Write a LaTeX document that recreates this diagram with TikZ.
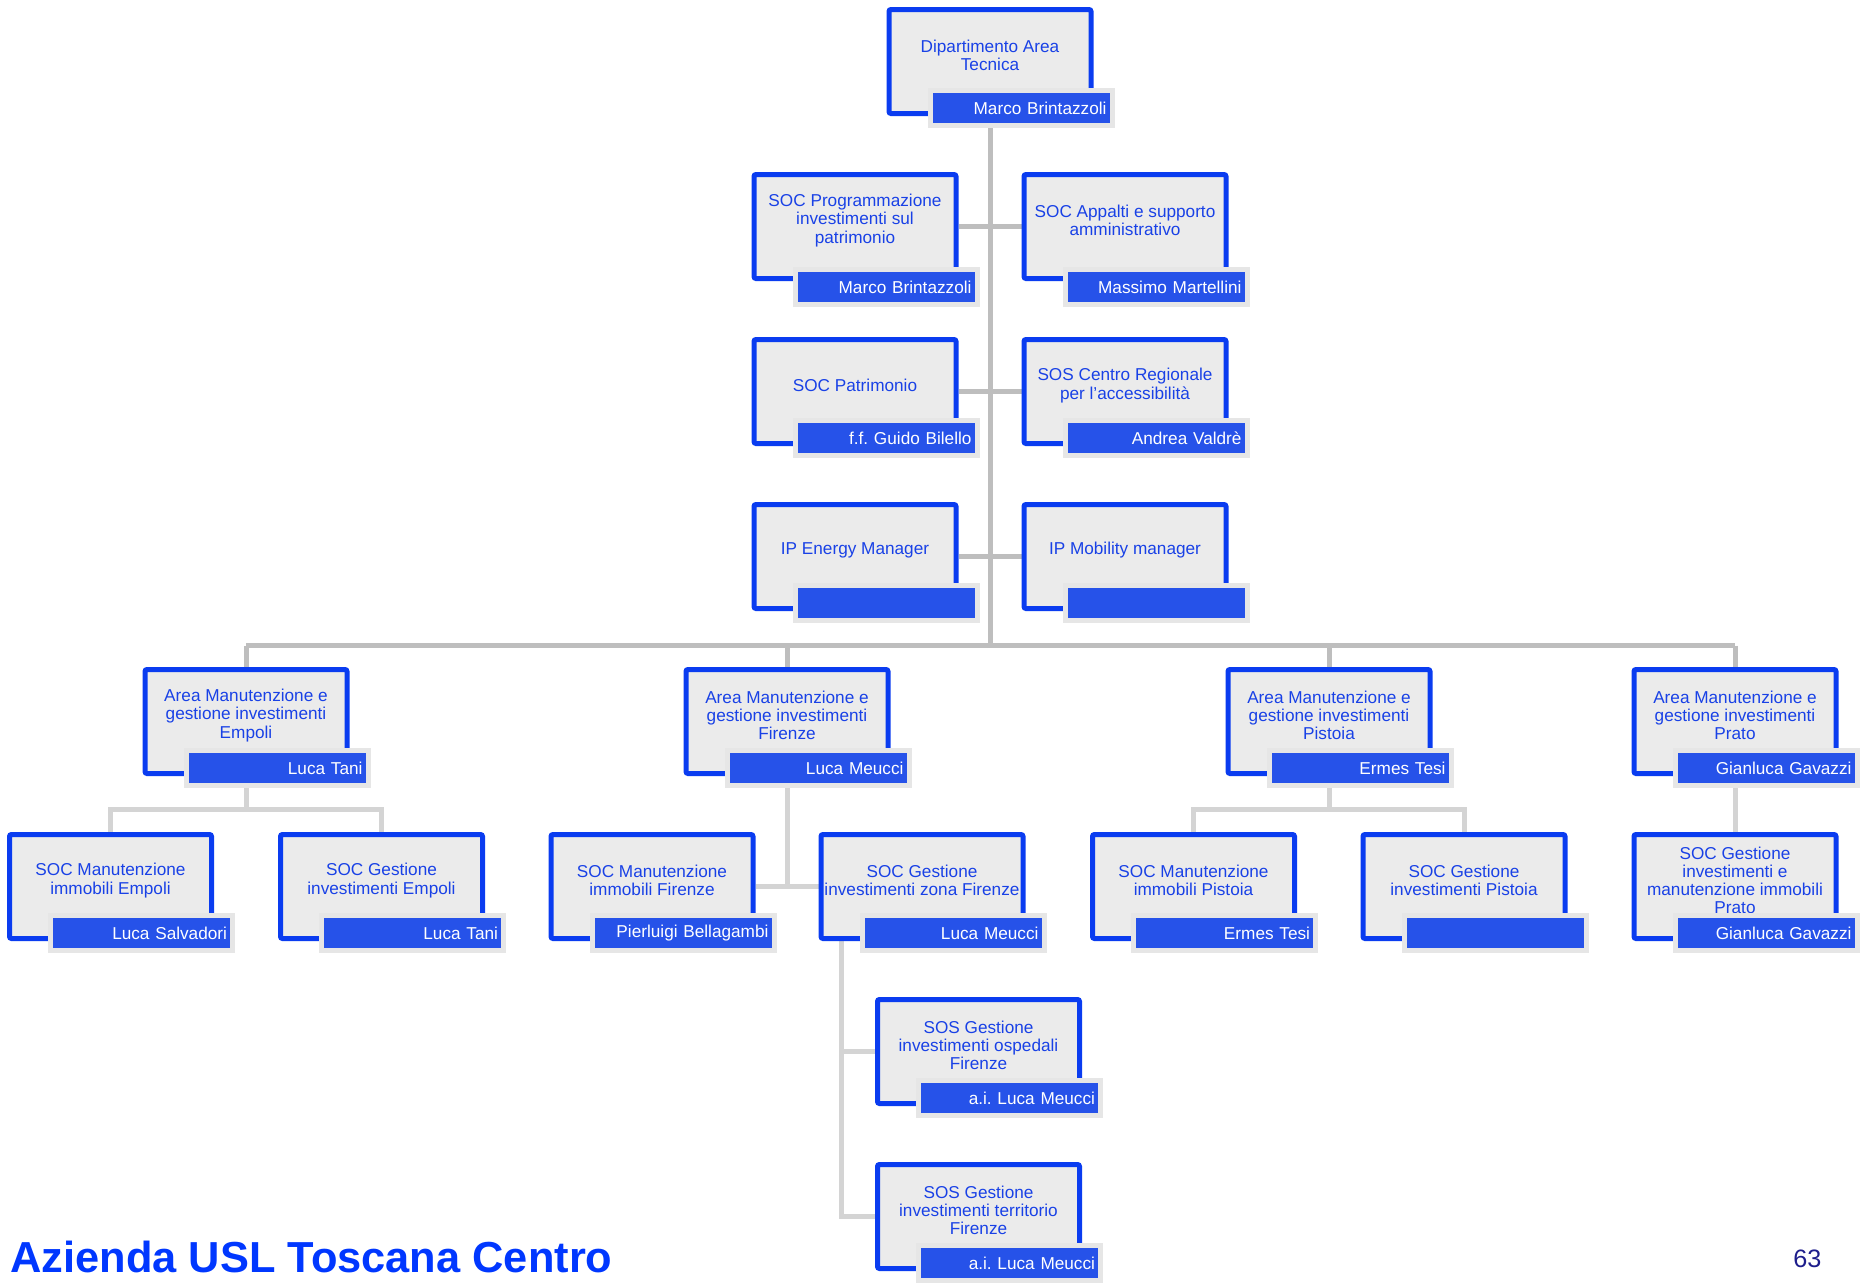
\documentclass[tikz,border=0pt]{standalone}
\usepackage{fontspec}
\setmainfont{Liberation Sans}
\usepackage{xcolor}
\usetikzlibrary{positioning, backgrounds}
\frenchspacing
\definecolor{unitblue}{RGB}{10,60,240}
\definecolor{unitfill}{RGB}{235,235,235}
\definecolor{labelblue}{RGB}{25,65,230}
\definecolor{barblue}{RGB}{22,70,234}
\definecolor{framegrey}{RGB}{230,230,230}
\definecolor{linkgrey}{RGB}{190,190,190}
\definecolor{sublinkgrey}{RGB}{212,212,212}
\definecolor{titleblue}{RGB}{0,55,255}
\definecolor{pagenavy}{RGB}{30,30,140}

\tikzset{
  unitbox/.style={draw=unitblue, fill=unitfill, line width=2.5pt,
    rounded corners=1pt, minimum width=101pt, minimum height=52pt, inner sep=0pt},
  boxlabel/.style={align=center, text=labelblue, inner sep=0pt,
    font=\fontsize{8.6pt}{9.1pt}\selectfont},
  nameframe/.style={fill=framegrey, minimum width=93.5pt, minimum height=20pt, inner sep=0pt},
  namebar/.style={fill=barblue, fill opacity=0.92, text opacity=1, text=white,
    minimum height=15pt, text width=85.5pt, inner xsep=1.5pt, inner ysep=0pt,
    align=right, font=\fontsize{8.6pt}{9.1pt}\selectfont},
  link/.style={draw=linkgrey, line width=2.5pt},
  sublink/.style={draw=sublinkgrey, line width=2.5pt}
}

% box with a name bar: [bar drop], name, x, y, label, person
\newcommand{\orgbox}[6][0]{%
  \node[unitbox] (#2) at (#3,#4) {};
  \node[boxlabel] (#2-t) at ([yshift=3pt]#2.center) {#5};
  \node[nameframe] (#2-f) at ({#3+31},{#4+46.5+#1}) {};
  \node[namebar] (#2-n) at (#2-f.center) {#6};
}

\begin{document}
\begin{tikzpicture}[x=0.5pt, y=-0.5pt]
  \useasboundingbox (0,0) rectangle (1865,1282);

  % head
  \orgbox{dip}{990}{61.5}{Dipartimento Area\\Tecnica}{Marco Brintazzoli}
  % staff rows
  \orgbox[14]{prog}{855}{226.5}{SOC Programmazione\\investimenti sul\\patrimonio}{Marco Brintazzoli}
  \orgbox[14]{appa}{1125}{226.5}{SOC Appalti e supporto\\amministrativo}{Massimo Martellini}
  \orgbox{patr}{855}{391.5}{SOC Patrimonio}{f.f. Guido Bilello}
  \orgbox{acce}{1125}{391.5}{SOS Centro Regionale\\per l’accessibilità}{Andrea Valdrè}
  \orgbox{ener}{855}{556.5}{IP Energy Manager}{}
  \orgbox{mobi}{1125}{556.5}{IP Mobility manager}{}
  % areas
  \orgbox{emp}{246}{721.5}{Area Manutenzione e\\gestione investimenti\\Empoli}{Luca Tani}
  \orgbox{fir}{787}{721.5}{Area Manutenzione e\\gestione investimenti\\Firenze}{Luca Meucci}
  \orgbox{pis}{1329}{721.5}{Area Manutenzione e\\gestione investimenti\\Pistoia}{Ermes Tesi}
  \orgbox{pra}{1735}{721.5}{Area Manutenzione e\\gestione investimenti\\Prato}{Gianluca Gavazzi}
  % units of the areas
  \orgbox{empa}{110.5}{886.5}{SOC Manutenzione\\immobili Empoli}{Luca Salvadori}
  \orgbox{empb}{381.5}{886.5}{SOC Gestione\\investimenti Empoli}{Luca Tani}
  \orgbox{fira}{652}{886.5}{SOC Manutenzione\\immobili Firenze}{Pierluigi Bellagambi}
  \orgbox{firb}{922}{886.5}{SOC Gestione\\investimenti zona Firenze}{Luca Meucci}
  \orgbox{pisa}{1193.5}{886.5}{SOC Manutenzione\\immobili Pistoia}{Ermes Tesi}
  \orgbox{pisb}{1464}{886.5}{SOC Gestione\\investimenti Pistoia}{}
  \orgbox{prab}{1735}{886.5}{SOC Gestione\\investimenti e\\manutenzione immobili\\Prato}{Gianluca Gavazzi}
  \orgbox{sosa}{978.5}{1051.5}{SOS Gestione\\investimenti ospedali\\Firenze}{a.i. Luca Meucci}
  \orgbox{sosb}{978.5}{1216.5}{SOS Gestione\\investimenti territorio\\Firenze}{a.i. Luca Meucci}

  % footer
  \node[anchor=base west, inner sep=0pt, text=titleblue,
    font=\fontsize{21.7pt}{24pt}\selectfont\bfseries] (title) at (10,1272) {Azienda USL Toscana Centro};
  \node[anchor=base west, inner sep=0pt, text=pagenavy,
    font=\fontsize{12.6pt}{14pt}\selectfont] (page) at (1793,1267) {63};

  \begin{scope}[on background layer]
    % main spine and bus
    \coordinate (busL) at (246,645.5);
    \coordinate (busR) at (1735,645.5);
    \draw[link] (dip.south) -- (dip.south |- busL);
    \draw[link] (busL) -- (busR);
    \foreach \a/\b in {prog/appa, patr/acce, ener/mobi}{
      \draw[link] (\a.east) -- (\b.west);
    }
    \foreach \a in {emp, fir, pis, pra}{
      \draw[link] (\a.north |- busL) -- (\a.north);
    }
    % Empoli and Pistoia
    \coordinate (empJ) at (246,809.5);
    \coordinate (pisJ) at (1329,809.5);
    \draw[sublink] (emp.south) -- (empJ);
    \draw[sublink] (empa.north) |- (empJ) -| (empb.north);
    \draw[sublink] (pis.south) -- (pisJ);
    \draw[sublink] (pisa.north) |- (pisJ) -| (pisb.north);
    % Firenze
    \draw[sublink] (fir.south) -- (fir.south |- fira.east);
    \draw[sublink] (fira.east) -- (firb.west);
    \coordinate (firbD) at ([xshift=11.5pt]firb.south west);
    \draw[sublink] (firbD) |- (sosb.west);
    \draw[sublink] (sosa.west) -- (sosa.west -| firbD);
    % Prato
    \draw[sublink] (pra.south) -- (prab.north);
  \end{scope}
\end{tikzpicture}
\end{document}
